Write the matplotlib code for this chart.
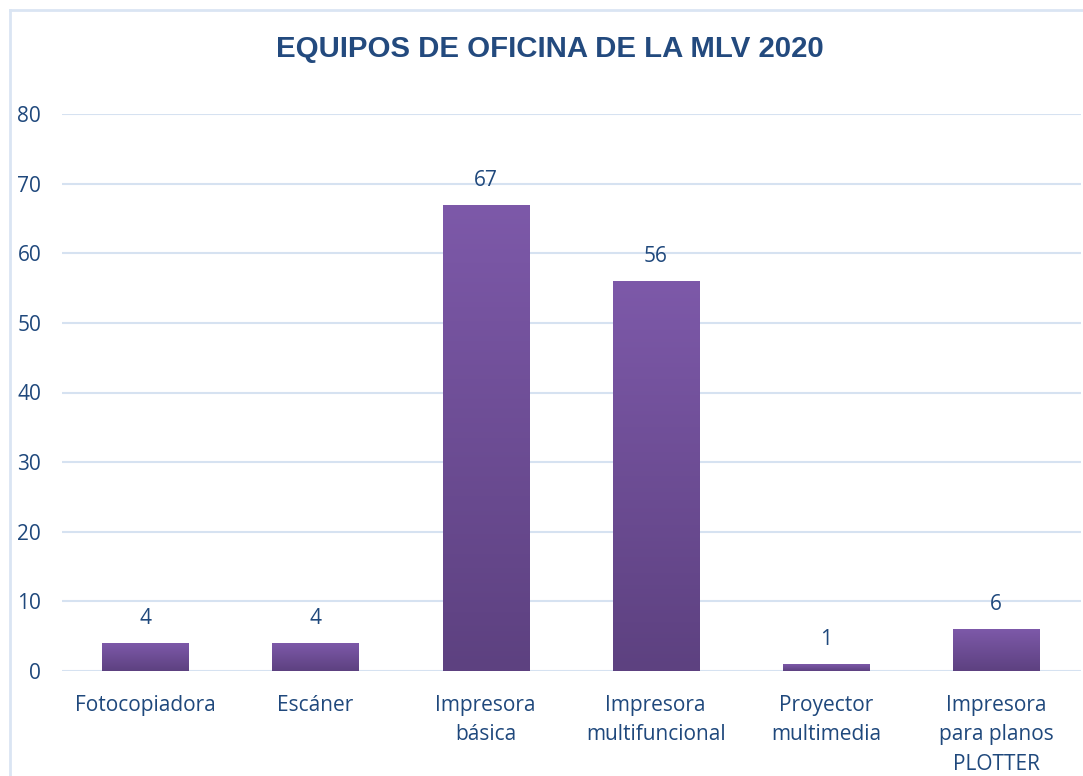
import matplotlib
matplotlib.use("Agg")
import matplotlib.pyplot as plt
import numpy as np
from matplotlib.lines import Line2D
from matplotlib.colors import LinearSegmentedColormap

categories = ["Fotocopiadora", "Escáner", "Impresora\nbásica", "Impresora\nmultifuncional",
              "Proyector\nmultimedia", "Impresora\npara planos\nPLOTTER"]
values = [4, 4, 67, 56, 1, 6]
yticks = [0, 10, 20, 30, 40, 50, 60, 70, 80]
title = "EQUIPOS DE OFICINA DE LA MLV 2020"

W, H = 1083, 776
fig = plt.figure(figsize=(W / 100, H / 100), dpi=100)
fig.patch.set_facecolor("white")

text_color = "#1F487C"
grid_color = "#D6E2F1"

# outer border
fig.add_artist(Line2D([10 / W, 1], [1 - 10 / H, 1 - 10 / H], transform=fig.transFigure, color="#DAE5F3", lw=2))
fig.add_artist(Line2D([10 / W, 10 / W], [0, 1 - 10 / H], transform=fig.transFigure, color="#DAE5F3", lw=2))

ax = fig.add_axes([62 / W, 1 - 671 / H, (1081 - 62) / W, (671 - 114) / H])
x = np.arange(len(categories))
bars = ax.bar(x, values, width=0.506, color="#6E4F98", zorder=3)

# vertical gradient inside each bar
grad = np.linspace(0, 1, 256).reshape(-1, 1)
cmap = LinearSegmentedColormap.from_list("pg", ["#5D4180", "#7D59A9"])
for b in bars:
    bx = b.get_x()
    bw, bh = b.get_width(), b.get_height()
    im = ax.imshow(grad, extent=[bx, bx + bw, 0, bh], origin="lower", cmap=cmap,
                   aspect="auto", zorder=4, interpolation="bilinear")
    im.set_clip_path(b)
    b.set_facecolor("none")

ax.set_xlim(-0.49, 5.5)
ax.set_ylim(0, 80)
ax.set_yticks(yticks)
ax.set_xticks(x)
ax.set_xticklabels(categories, linespacing=1.55)
for s in ax.spines.values():
    s.set_visible(False)
ax.grid(axis="y", color=grid_color, lw=1.5, zorder=0)
ax.tick_params(axis="both", length=0, labelsize=15, colors=text_color, labelfontfamily="Open Sans")
ax.tick_params(axis="y", pad=15)
ax.tick_params(axis="x", pad=17)

for xi, v in zip(x, values):
    ax.annotate(str(v), (xi, v), xytext=(0, 10), textcoords="offset points", ha="center", va="bottom",
                fontsize=15, color=text_color, family="Open Sans")

fig.text(550 / W, 1 - 49 / H, title, ha="center", va="center", fontsize=21.2, fontweight="bold",
         color="#234A7E", family="Liberation Sans")

fig.savefig("out.png", dpi=100)
